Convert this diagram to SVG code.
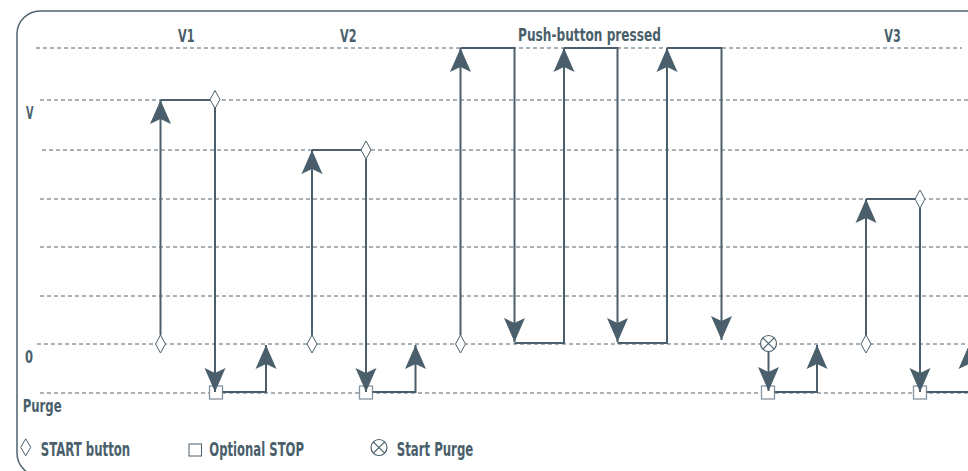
<svg xmlns="http://www.w3.org/2000/svg" xmlns:xlink="http://www.w3.org/1999/xlink" width="968" height="471" viewBox="0 0 968 471">
<style>
.bd{fill:none;stroke:#4f636e;stroke-width:1.5}
.gr{stroke:#506570;stroke-width:1;stroke-dasharray:4 3;fill:none}
.w{fill:none;stroke:#4a5f6b;stroke-width:2;stroke-linejoin:miter}
.wa{fill:none;stroke:#4a5f6b;stroke-width:2;marker-end:url(#ah)}
.dia{fill:#fff;stroke:#4a5f6b;stroke-width:1}
.sq{fill:#fff;stroke:#8494a0;stroke-width:1.3}
.sp{fill:#fff;stroke:#4a5f6b;stroke-width:1.2}
.t{font-family:'DejaVu Sans Condensed','DejaVu Sans',sans-serif;font-stretch:condensed;font-weight:bold;font-size:18.5px;fill:#4a5f6b}
.lg{font-size:19px}
</style>
<defs>
<marker id="ah" markerUnits="userSpaceOnUse" markerWidth="26" markerHeight="24" viewBox="0 -12 26 24" refX="24" refY="0" orient="auto">
<path d="M0,-10.5 L24,0 L0,10.5 L5,0 Z" fill="#4a5f6b"/>
</marker>
<path id="dm" d="M0,-9 L5,0 L0,9 L-5,0 Z"/>
<rect id="sqr" x="-6.5" y="-6.5" width="13" height="13"/>
<g id="cx"><circle r="8" cx="0" cy="0"/><path d="M-5.7,-5.7 L5.7,5.7 M5.7,-5.7 L-5.7,5.7"/></g>
</defs>
<path class="bd" d="M975 476 H40 A23 23 0 0 1 17 453 V34 A23 23 0 0 1 40 11 H975"/>
<g id="grid">
<line class="gr" x1="36" y1="48" x2="962" y2="48"/>
<line class="gr" x1="40" y1="100" x2="968" y2="100"/>
<line class="gr" x1="42" y1="150" x2="968" y2="150"/>
<line class="gr" x1="40" y1="199" x2="968" y2="199"/>
<line class="gr" x1="40" y1="247" x2="968" y2="247"/>
<line class="gr" x1="40" y1="296" x2="968" y2="296"/>
<line class="gr" x1="37" y1="344" x2="968" y2="344"/>
<line class="gr" x1="40" y1="393" x2="968" y2="393"/>
</g>
<g id="labels">
<text class="t" x="178" y="41.5" textLength="16.5" lengthAdjust="spacingAndGlyphs">V1</text>
<text class="t" x="340" y="41.5" textLength="16.5" lengthAdjust="spacingAndGlyphs">V2</text>
<text class="t" x="518" y="40.5" textLength="143" lengthAdjust="spacingAndGlyphs">Push-button pressed</text>
<text class="t" x="884.3" y="41.5" textLength="16.5" lengthAdjust="spacingAndGlyphs">V3</text>
<text class="t" x="26" y="119.3" textLength="7.5" lengthAdjust="spacingAndGlyphs">V</text>
<text class="t" x="25" y="362.5" textLength="8" lengthAdjust="spacingAndGlyphs">0</text>
<text class="t" x="22.7" y="412.3" textLength="39" lengthAdjust="spacingAndGlyphs">Purge</text>
</g>
<g id="squares">
<use xlink:href="#sqr" class="sq" x="216" y="392.5"/>
<use xlink:href="#sqr" class="sq" x="366" y="392.5"/>
<use xlink:href="#sqr" class="sq" x="768" y="392.5"/>
<use xlink:href="#sqr" class="sq" x="920" y="392.5"/>
</g>
<g id="connectors">
<path class="wa" d="M160.5 335 V100"/>
<path class="w" d="M160.5 100 H215"/>
<path class="wa" d="M215 108 V392"/>
<path class="wa" d="M222.5 392 H266 V345"/>
<path class="wa" d="M312 335 V150"/>
<path class="w" d="M312 150 H366"/>
<path class="wa" d="M366 159 V392"/>
<path class="wa" d="M372.5 392 H415.5 V345"/>
<path class="wa" d="M460.5 335 V48"/>
<path class="wa" d="M460.5 48 H514.5 V342"/>
<path class="wa" d="M514.5 343 H564 V48"/>
<path class="wa" d="M564 48 H617.5 V342"/>
<path class="wa" d="M617.5 343 H667 V48"/>
<path class="wa" d="M667 48 H721.5 V340"/>
<path class="wa" d="M768.5 352 V391"/>
<path class="wa" d="M774.5 392 H817 V345"/>
<path class="wa" d="M866 335 V199"/>
<path class="w" d="M866 199 H920"/>
<path class="wa" d="M920 208 V392"/>
<path class="wa" d="M926.5 392 H969 V345"/>
</g>
<g id="v1-start"><use xlink:href="#dm" class="dia" x="160.5" y="344"/></g>
<g id="v1-top"><use xlink:href="#dm" class="dia" x="215" y="99.5"/></g>
<g id="v2-start"><use xlink:href="#dm" class="dia" x="312" y="344"/></g>
<g id="v2-top"><use xlink:href="#dm" class="dia" x="366" y="150"/></g>
<g id="push-start"><use xlink:href="#dm" class="dia" x="460.5" y="344"/></g>
<g id="purge-start"><use xlink:href="#cx" class="sp" x="768.5" y="343.5"/></g>
<g id="v3-start"><use xlink:href="#dm" class="dia" x="866" y="344"/></g>
<g id="v3-top"><use xlink:href="#dm" class="dia" x="920" y="199"/></g>
<g id="legend">
<path class="dia" d="M25.7,438.8 L30.7,447.3 L25.7,455.8 L20.7,447.3 Z"/>
<text class="t lg" x="40.7" y="455.6" textLength="89.5" lengthAdjust="spacingAndGlyphs">START button</text>
<rect x="189" y="444" width="12.5" height="12" fill="#fff" stroke="#4a5f6b" stroke-width="1"/>
<text class="t lg" x="209.3" y="455.6" textLength="94.7" lengthAdjust="spacingAndGlyphs">Optional STOP</text>
<use xlink:href="#cx" class="sp" x="379" y="447.5"/>
<text class="t lg" x="396.7" y="455.6" textLength="76.6" lengthAdjust="spacingAndGlyphs">Start Purge</text>
</g>
</svg>
